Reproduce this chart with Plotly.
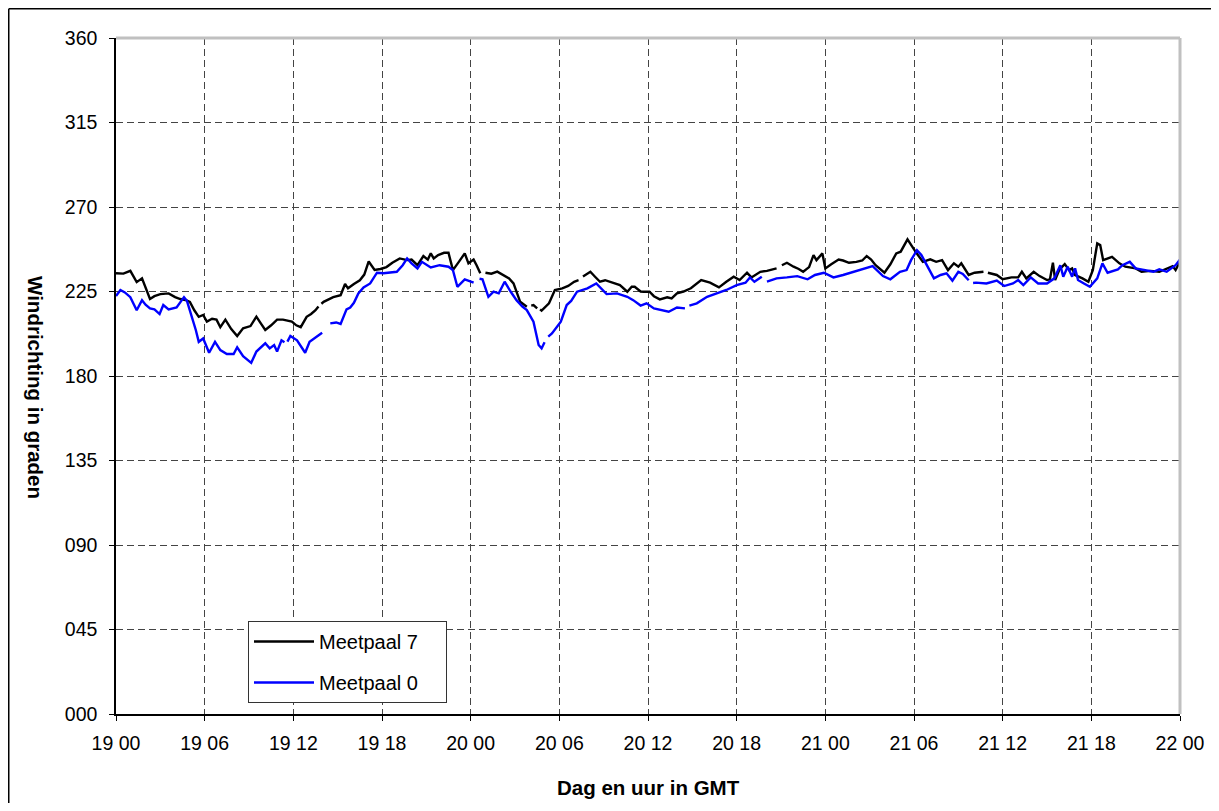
import plotly.graph_objects as go

# Hours since 19 00 GMT
x_tickvals = [0, 6, 12, 18, 24, 30, 36, 42, 48, 54, 60, 66, 72]
x_ticktext = ["19 00", "19 06", "19 12", "19 18", "20 00", "20 06", "20 12",
              "20 18", "21 00", "21 06", "21 12", "21 18", "22 00"]
y_tickvals = [0, 45, 90, 135, 180, 225, 270, 315, 360]
y_ticktext = ["000", "045", "090", "135", "180", "225", "270", "315", "360"]

hours_m7 = [0, 0.5, 0.97, 1.4, 1.76, 2.3, 2.6, 3.0, 3.56, 4.0, 4.35, 4.7, 5.0, 5.3, 5.6, 5.9,
            6.15, 6.5, 6.8, 7.06, 7.4, 7.8, 8.2, 8.6, 9.1, 9.5, 9.8, 10.1, 10.5, 10.9, 11.3,
            11.9, 12.2, 12.5, 12.9, 13.2, 13.5, 13.7, 13.8, 13.9, 14.05, 14.7, 15.2, 15.5,
            15.7, 16.1, 16.5, 16.8, 17.1, 17.5, 17.9, 18.3, 18.7, 19.2, 19.7, 20.0, 20.4,
            20.8, 21.1, 21.3, 21.5, 21.8, 22.2, 22.5, 22.8, 23.2, 23.6, 23.85, 24.2, 24.4,
            24.65, 24.8, 25.0, 25.4, 25.8, 26.2, 26.6, 26.9, 27.1, 27.35, 27.8, 28.0, 28.1,
            28.25, 28.5, 28.6, 28.7, 28.8, 29.3, 29.7, 30.2, 30.6, 31.0, 31.3, 31.4, 31.6,
            32.1, 32.4, 32.75, 33.1, 33.4, 33.8, 34.1, 34.6, 34.9, 35.1, 35.5, 35.7, 36.1,
            36.4, 36.8, 37.3, 37.6, 37.96, 38.4, 38.9, 39.3, 39.6, 40.2, 40.8, 41.3, 41.8,
            42.2, 42.7, 43.0, 43.6, 44.05, 44.4, 44.7, 44.85, 45.06, 45.4, 45.85, 46.2, 46.5,
            46.9, 47.2, 47.4, 47.8, 48.0, 48.4, 48.9, 49.2, 49.6, 50.1, 50.5, 50.8, 51.1,
            51.4, 52.0, 52.4, 52.8, 53.1, 53.56, 54.1, 54.6, 55.1, 55.5, 55.9, 56.3, 56.7,
            57.0, 57.2, 57.7, 58.1, 58.7, 58.8, 59.0, 59.6, 60.0, 60.6, 61.05, 61.3, 61.6,
            62.1, 62.5, 63.0, 63.2, 63.4, 63.55, 63.85, 64.2, 64.5, 64.7, 64.9, 65.4, 65.8,
            66.1, 66.4, 66.6, 66.8, 67.4, 67.9, 68.3, 69.0, 69.4, 70.0, 70.6, 71.2, 71.5,
            71.7, 72.0]
dir_m7 = [234.7, 234.5, 236, 230, 232, 221, 222.5, 223.6, 224, 222, 221, 220.5, 219.5, 215,
          211.5, 212.5, 209, 210.5, 210, 206, 210, 205, 201.3, 205.4, 206.6, 211.6, 208,
          204.5, 207, 210, 210, 209, 207, 206, 211.5, 213, 215, 217, None, 218.5, 219.5,
          222, 223, 229, 226.7, 229, 231, 234, 241, 236.5, 237, 238, 240.3, 242.6, 241.7,
          242, 239, 243.9, 242, 245.3, 242.6, 244.4, 245.6, 245.6, 236.4, 240.8, 245.3, 240,
          242, 239, 234.7, None, 235, 234.5, 235.6, 233.8, 232, 229.3, 225, 219.5, 216.9,
          None, 217.5, 217.8, 216, None, 215.5, 214.8, 218.7, 225.8, 226.7, 228, 230.2, 231,
          None, 233, 235.5, 233, 230.2, 231, 230.2, 229.5, 228.4, 224.9, 227.5, 227.5, 225,
          224.9, 224.9, 222.5, 220.8, 221.9, 221.3, 224, 225, 226.7, 229, 231.1, 229.7,
          227.2, 230.2, 232.9, 231.1, 235, 232.5, 235.5, 236, 236.5, 237.3, None, 239,
          240.3, 238.2, 237, 235.5, 238, 244.4, 241.7, 245.3, 237.3, 239.5, 242, 241.5,
          240.3, 240.8, 241.5, 243.9, 242, 239, 235, 239.5, 245.3, 246.2, 252.8, 246.2,
          240.8, 242.1, 240.8, 241.7, 236.4, 240, 238.2, 240, 233.8, 235, 235.5, None, 235,
          233.8, 231.5, 232.5, 232.5, 235.5, 232, 235.5, 233.2, 231.1, 231.5, 240.3, 231.1,
          236.8, 239.6, 236.4, 237.3, 233.8, 232, 230.2, 236.4, 250.6, 249.7, 241.7, 243.5,
          240, 238.2, 237.3, 235.5, 236, 235.5, 237.3, 238.5, 236.4, 240.8]

hours_m0 = [0, 0.3, 0.6, 0.97, 1.4, 1.76, 2.0, 2.3, 2.6, 2.95, 3.2, 3.56, 4.1, 4.6, 4.8, 5.0,
            5.4, 5.6, 5.9, 6.3, 6.7, 7.06, 7.5, 7.96, 8.2, 8.6, 9.15, 9.5, 10.1, 10.4, 10.7,
            10.9, 11.2, 11.4, 11.5, 11.6, 11.8, 12.25, 12.8, 13.1, 13.7, 13.95, 14.0, 14.2,
            14.3, 14.5, 14.9, 15.2, 15.6, 15.85, 16.1, 16.4, 16.75, 17.2, 17.66, 18.1, 18.5,
            19.0, 19.4, 19.7, 20.0, 20.4, 20.7, 21.3, 21.9, 22.5, 22.8, 23.1, 23.6, 24.0,
            24.2, 24.4, 24.6, 24.8, 25.2, 25.55, 25.9, 26.3, 26.7, 27.1, 27.5, 27.8, 28.25,
            28.6, 28.8, 29.0, 29.1, 29.25, 29.5, 30.1, 30.5, 30.8, 31.2, 31.9, 32.5, 33.2,
            33.9, 34.6, 35.0, 35.5, 35.9, 36.4, 36.9, 37.4, 37.96, 38.5, 38.6, 38.8, 39.3,
            40.0, 40.7, 41.3, 42.0, 42.6, 42.9, 43.2, 43.7, 43.85, 44.05, 44.7, 45.4, 46.1,
            46.8, 47.3, 47.9, 48.55, 49.2, 49.9, 50.6, 51.2, 51.9, 52.4, 53.05, 53.5, 53.8,
            54.2, 54.5, 54.9, 55.35, 55.8, 56.2, 56.6, 57.0, 57.3, 57.7, 57.85, 58.0, 58.2,
            58.9, 59.6, 60.1, 60.7, 61.05, 61.4, 61.9, 62.4, 63.0, 63.5, 63.9, 64.1, 64.4,
            64.7, 64.9, 65.1, 65.5, 65.9, 66.4, 66.75, 67.1, 67.8, 68.1, 68.6, 69.0, 69.6,
            70.2, 70.6, 71.1, 71.7, 72.0]
dir_m0 = [222.6, 225.8, 224.5, 222, 215, 220.4, 218, 216, 215.5, 213, 217.8, 215.5, 216.5,
          222, 220, 215, 204.5, 198.2, 200, 192.4, 198.2, 193.8, 191.7, 191.7, 195.3, 190.6,
          187, 193, 197.4, 194.7, 196.5, 193, 199, 198, None, 198.3, 201.3, 199, 192.4,
          198.2, 201.8, 203, None, 203.6, None, 208, 208.5, 207.7, 215.5, 216.5, 219, 224,
          227.2, 229.3, 235, 234.7, 235, 235.5, 239, 242.6, 240, 237.3, 240.8, 237.8, 239,
          238.2, 236.4, 227.5, 231.5, 230.5, 229.7, None, 231.8, 231.5, 222.2, 224.9, 224,
          230.2, 225, 220.4, 217, 215.1, 208.9, 196.5, 194.7, 198, None, 201, 202.7, 208.9,
          217.8, 220, 224.9, 226.7, 229.3, 223.6, 224, 222.2, 220.4, 217.5, 218.7, 216,
          215.1, 214.2, 216.5, 216, None, 217.5, 218.7, 222.2, 224, 225.8, 228.4, 229.7,
          232.5, 230.2, 232.9, None, 230.2, 232, 232.5, 233.2, 231.5, 233.8, 235, 232.5,
          233.8, 235.5, 237.3, 238.5, 233.2, 231.5, 235.5, 236.4, 241.7, 247, 244.4, 238.2,
          232, 233.8, 234.7, 230.8, 235.5, 234.3, 231, None, 229.5, 229.7, 229.3, 230.8,
          227.9, 229.3, 231.1, 228.4, 232.5, 229.3, 229.3, 232, 239, 232.9, 238.2, 232.9,
          237.3, 231.1, 229.3, 227.5, 232, 240, 235, 236.8, 239, 240.8, 237.3, 236.4, 235.5,
          236.8, 235.5, 239, 242]

FONT = "Liberation Sans, Arial, sans-serif"
pad = "\u00a0" * 4

fig = go.Figure()
fig.add_trace(go.Scatter(x=hours_m7, y=dir_m7, mode="lines", name="Meetpaal 7" + pad,
                         line=dict(color="#000000", width=2.4), connectgaps=False,
                         legendgroup="a"))
fig.add_trace(go.Scatter(x=hours_m0, y=dir_m0, mode="lines", name="Meetpaal 0" + pad,
                         line=dict(color="#0000ff", width=2.4), connectgaps=False,
                         legendgroup="b"))

# The page body has an 8px margin, so the figure starts at page pixel (8, 8).
OFF = 8
W, H = 1203, 795
L, R, T, B = 108, 31, 30, 89
pw, ph = W - L - R, H - T - B

def px_x(p):
    return (p - OFF - L) / pw

def px_y(p):
    return (H - B - (p - OFF)) / ph

fig.update_layout(
    width=W, height=H,
    margin=dict(l=L, r=R, t=T, b=B, pad=0, autoexpand=False),
    paper_bgcolor="white", plot_bgcolor="white",
    font=dict(family=FONT, size=19.5, color="black"),
    showlegend=True,
    legend=dict(x=px_x(248), y=px_y(621), xanchor="left", yanchor="top",
                bgcolor="white", bordercolor="#333333", borderwidth=1,
                font=dict(family=FONT, size=20, color="black"),
                traceorder="grouped", tracegroupgap=12,
                itemwidth=60),
    xaxis=dict(range=[0, 72], tickvals=x_tickvals, ticktext=x_ticktext,
               showgrid=True, gridcolor="#444444", gridwidth=1, griddash="7px,4px",
               showline=True, linecolor="black", linewidth=1.5,
               ticks="outside", ticklen=5, tickcolor="black", tickwidth=1,
               zeroline=False, ticklabelstandoff=6, automargin=False,
               tickfont=dict(family=FONT, size=19.5, color="black")),
    yaxis=dict(range=[0, 360], tickvals=y_tickvals, ticktext=y_ticktext,
               showgrid=True, gridcolor="#444444", gridwidth=1, griddash="7px,4px",
               showline=True, linecolor="black", linewidth=1.5,
               ticks="outside", ticklen=5, tickcolor="black", tickwidth=1,
               zeroline=False, ticklabelstandoff=8, automargin=False,
               tickfont=dict(family=FONT, size=19.5, color="black")),
    shapes=[
        dict(type="line", xref="paper", yref="paper", x0=0, x1=1, y0=1, y1=1,
             line=dict(color="#c0c0c0", width=3)),
        dict(type="line", xref="paper", yref="paper", x0=1, x1=1, y0=0, y1=1,
             line=dict(color="#c0c0c0", width=3)),
        dict(type="line", xref="paper", yref="paper", x0=px_x(8.75), x1=px_x(1230),
             y0=px_y(8.75), y1=px_y(8.75), line=dict(color="black", width=1.5)),
        dict(type="line", xref="paper", yref="paper", x0=px_x(8.75), x1=px_x(8.75),
             y0=px_y(8.75), y1=px_y(830), line=dict(color="black", width=1.5)),
    ],
    annotations=[
        dict(text="<b>Dag en uur in GMT</b>", xref="paper", yref="paper",
             x=0.5, y=px_y(787), xanchor="center", yanchor="middle", showarrow=False,
             font=dict(family=FONT, size=20.5, color="black")),
        dict(text="<b>Windrichting in graden</b>", xref="paper", yref="paper",
             x=px_x(36), y=px_y(387), xanchor="center", yanchor="middle", showarrow=False,
             textangle=90, font=dict(family=FONT, size=20.5, color="black")),
    ],
)

fig.write_html("out.html")
